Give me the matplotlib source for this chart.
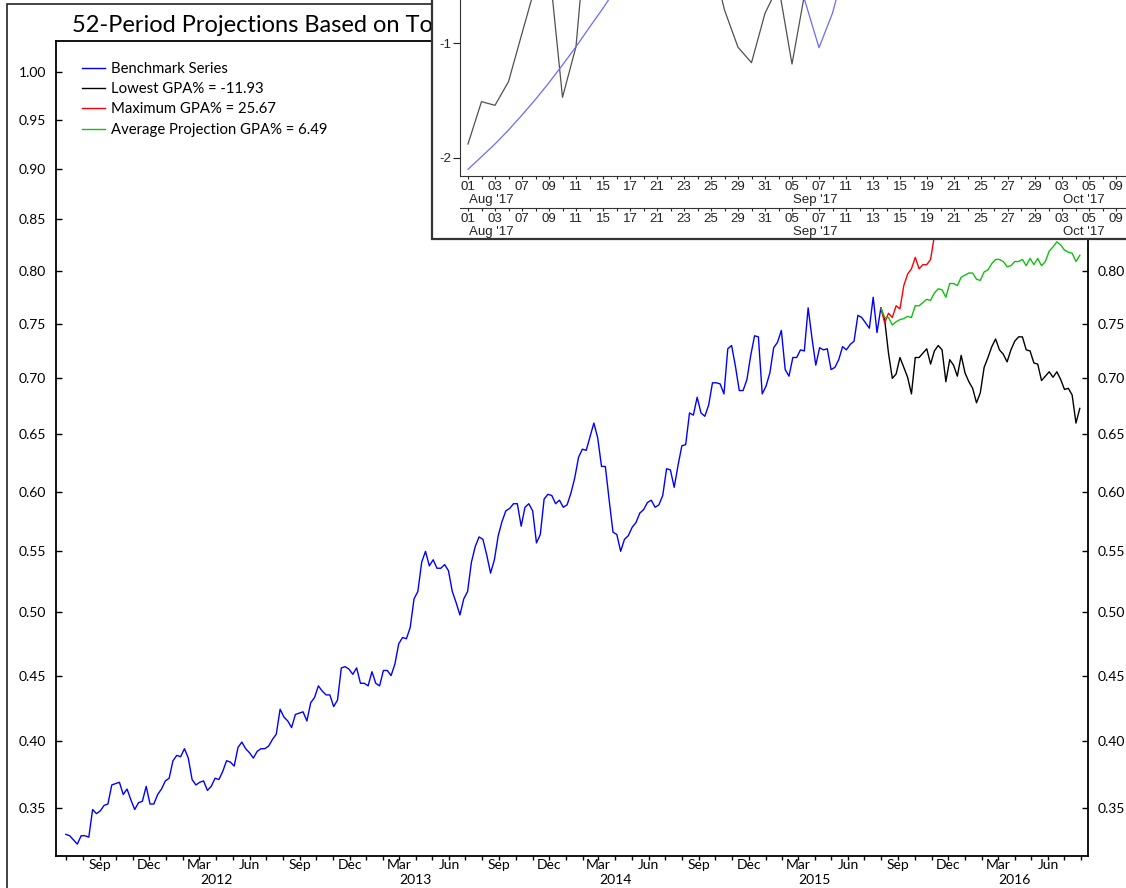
import numpy as np
import pandas as pd
import matplotlib
matplotlib.use("Agg")
import matplotlib.pyplot as plt
import matplotlib.dates as mdates
from matplotlib.patches import Rectangle
from matplotlib.ticker import FixedLocator, FixedFormatter, NullLocator

# ---------------- data ----------------
start_date = "2011-07-01"   # weekly benchmark series
benchmark = [
    0.331, 0.330, 0.327, 0.324, 0.330, 0.330, 0.329, 0.349, 0.346, 0.348,
    0.352, 0.353, 0.367, 0.368, 0.369, 0.360, 0.364, 0.356, 0.349, 0.354,
    0.355, 0.366, 0.353, 0.353, 0.360, 0.364, 0.370, 0.372, 0.385, 0.389,
    0.388, 0.394, 0.387, 0.371, 0.367, 0.369, 0.370, 0.363, 0.366, 0.372,
    0.371, 0.377, 0.385, 0.384, 0.381, 0.395, 0.399, 0.394, 0.391, 0.387,
    0.392, 0.394, 0.394, 0.396, 0.401, 0.405, 0.424, 0.418, 0.415, 0.410,
    0.420, 0.421, 0.422, 0.415, 0.429, 0.433, 0.442, 0.438, 0.435, 0.435,
    0.426, 0.431, 0.456, 0.457, 0.455, 0.451, 0.456, 0.444, 0.444, 0.442,
    0.453, 0.444, 0.442, 0.454, 0.454, 0.450, 0.459, 0.475, 0.480, 0.479,
    0.488, 0.511, 0.517, 0.541, 0.550, 0.538, 0.543, 0.536, 0.536, 0.539,
    0.534, 0.517, 0.508, 0.498, 0.511, 0.517, 0.541, 0.554, 0.562, 0.560,
    0.547, 0.532, 0.543, 0.563, 0.575, 0.584, 0.586, 0.590, 0.590, 0.571,
    0.587, 0.590, 0.584, 0.557, 0.564, 0.594, 0.598, 0.597, 0.590, 0.593,
    0.587, 0.589, 0.599, 0.612, 0.630, 0.637, 0.636, 0.648, 0.660, 0.647,
    0.622, 0.622, 0.593, 0.566, 0.564, 0.550, 0.560, 0.563, 0.570, 0.574,
    0.582, 0.585, 0.591, 0.593, 0.587, 0.589, 0.597, 0.620, 0.619, 0.604,
    0.623, 0.640, 0.641, 0.669, 0.667, 0.683, 0.669, 0.666, 0.676, 0.696,
    0.696, 0.695, 0.686, 0.727, 0.730, 0.711, 0.689, 0.689, 0.699, 0.721,
    0.739, 0.738, 0.686, 0.693, 0.705, 0.728, 0.733, 0.744, 0.708, 0.702,
    0.719, 0.719, 0.726, 0.725, 0.765, 0.737, 0.712, 0.728, 0.726, 0.727,
    0.708, 0.710, 0.717, 0.729, 0.726, 0.731, 0.734, 0.758, 0.756, 0.751,
    0.746, 0.775, 0.742, 0.765,
]
# 52-week projections, first value = last benchmark value
lowest = [
    0.765, 0.754, 0.723, 0.700, 0.704, 0.719, 0.710, 0.701, 0.686, 0.719,
    0.719, 0.723, 0.727, 0.713, 0.725, 0.730, 0.726, 0.697, 0.717, 0.712,
    0.702, 0.721, 0.705, 0.697, 0.691, 0.678, 0.687, 0.710, 0.719, 0.729,
    0.736, 0.726, 0.722, 0.715, 0.726, 0.734, 0.738, 0.738, 0.726, 0.725,
    0.714, 0.713, 0.698, 0.702, 0.706, 0.701, 0.706, 0.699, 0.690, 0.691,
    0.685, 0.660, 0.673,
]
average = [
    0.765, 0.756, 0.756, 0.749, 0.752, 0.754, 0.755, 0.757, 0.756, 0.767,
    0.767, 0.770, 0.773, 0.772, 0.779, 0.783, 0.782, 0.775, 0.788, 0.788,
    0.786, 0.794, 0.796, 0.798, 0.798, 0.792, 0.791, 0.799, 0.801, 0.807,
    0.811, 0.811, 0.809, 0.804, 0.805, 0.809, 0.809, 0.811, 0.805, 0.812,
    0.806, 0.812, 0.805, 0.809, 0.819, 0.823, 0.828, 0.825, 0.820, 0.818,
    0.817, 0.809, 0.815,
]
# visible part of the maximum projection (rest hidden under the inset)
maximum = [
    0.765, 0.751, 0.760, 0.756, 0.767, 0.764, 0.786, 0.797, 0.802, 0.813,
    0.802, 0.806, 0.806, 0.811, 0.834, 0.845, 0.850,
]

legend_labels = [
    "Benchmark Series",
    "Lowest GPA% = -11.93",
    "Maximum GPA% = 25.67",
    "Average Projection GPA% = 6.49",
]
title_text = "52-Period Projections Based on To"
year_labels = [2012, 2013, 2014, 2015, 2016]
y_ticks = [0.35, 0.40, 0.45, 0.50, 0.55, 0.60, 0.65, 0.70, 0.75, 0.80,
           0.85, 0.90, 0.95, 1.00]

# inset: business-day index series (Aug-Oct 2017)
nan = np.nan
inset_gray = [
    -1.878, -1.51, -1.542, -1.336, -0.916, -0.50, -0.31, -1.472, -1.032, 0.30,
    nan, nan, nan, nan, nan, nan, nan, nan, -0.23, -0.713,
    -1.037, -1.171, -0.742, -0.50, -1.183, -0.53,
]
inset_blue = [
    -2.098, -1.989, -1.878, -1.757, -1.626, -1.49, -1.345, -1.191, -1.032, -0.863,
    -0.698, -0.52, nan, nan, nan, nan, nan, nan, nan, nan,
    nan, nan, nan, nan, -0.30, -0.65, -1.041, -0.74, -0.30,
]
inset_day_labels = ["01", "03", "07", "09", "11", "15", "17", "21", "23", "25",
                    "29", "31", "05", "07", "11", "13", "15", "19", "21", "25",
                    "27", "29", "03", "05", "09"]
inset_month_labels = ["Aug '17", "Sep '17", "Oct '17"]
inset_month_pos = [0, 24, 44]
inset_y_ticks = [-1, -2]
inset_y_labels = ["-1", "-2"]

# ---------------- figure ----------------
W, H, DPI = 1126, 888, 100
plt.rcParams["font.family"] = ["Lato", "DejaVu Sans"]


def fx(x):
    return x / W


def fy(y):
    return 1 - y / H


fig = plt.figure(figsize=(W / DPI, H / DPI), dpi=DPI)

# main axes
ax = fig.add_axes([fx(56), fy(856), fx(1088) - fx(56), fy(41) - fy(856)], zorder=0)
ax.set_yscale("function", functions=(lambda y: np.log(np.asarray(y) + 1.1),
                                     lambda u: np.exp(np.asarray(u)) - 1.1))

bench_dates = pd.date_range(start_date, periods=len(benchmark), freq="7D")
proj_dates = pd.date_range(bench_dates[-1], periods=len(lowest), freq="7D")
max_dates = proj_dates[:len(maximum)]

lw = 1.0
l1, = ax.plot(bench_dates, benchmark, color="#0000ff", lw=lw)
l2, = ax.plot(proj_dates, lowest, color="black", lw=lw)
l3, = ax.plot(max_dates, maximum, color="#ff0000", lw=lw)
l4, = ax.plot(proj_dates, average, color="#10c010", lw=lw)

ax.set_ylim(0.3155, 1.033)
ax.set_xlim(pd.Timestamp("2011-06-13"), pd.Timestamp("2016-08-13"))
ax.yaxis.set_major_locator(FixedLocator(y_ticks))
ax.yaxis.set_major_formatter(FixedFormatter(["%.2f" % v for v in y_ticks]))
ax.yaxis.set_minor_locator(NullLocator())
ax.tick_params(axis="y", which="both", direction="in", left=True, right=True,
               labelleft=True, labelright=True, length=4, width=1, pad=7,
               labelsize=10)
# right-hand labels above 0.80 are covered by the inset panel
for t in ax.yaxis.get_major_ticks():
    if t.get_loc() > 0.82:
        t.label2.set_visible(False)

ax.xaxis.set_major_locator(mdates.MonthLocator(bymonth=[3, 6, 9, 12]))
ax.xaxis.set_major_formatter(mdates.DateFormatter("%b"))
ax.xaxis.set_minor_locator(mdates.MonthLocator())
ax.tick_params(axis="x", which="both", direction="out", length=3, width=1,
               pad=-1, labelsize=10)
for s in ax.spines.values():
    s.set_linewidth(1.3)

for yr in year_labels:
    ax.annotate(str(yr), xy=(pd.Timestamp(f"{yr}-04-01"), 0),
                xycoords=("data", "axes fraction"), xytext=(0, -13),
                textcoords="offset points", ha="center", va="top", fontsize=10)

ax.legend([l1, l2, l3, l4], legend_labels, loc="upper left",
          bbox_to_anchor=(fx(82), fy(62)), bbox_transform=fig.transFigure,
          frameon=False, fontsize=10.7, handlelength=1.55, handletextpad=0.4,
          labelspacing=0.42, borderpad=0, borderaxespad=0)

# title and outer border (below the inset)
fig.text(fx(72), fy(25), title_text, fontsize=17, ha="left", va="center",
         zorder=0.5)
fig.add_artist(Rectangle((fx(7), -0.1), 1.2, fy(4) + 0.1,
                         transform=fig.transFigure, facecolor="none",
                         edgecolor="#222222", lw=1.2, zorder=0.5))

# inset frame
fig.add_artist(Rectangle((fx(432), fy(239)), 1.0, 0.5,
                         transform=fig.transFigure, facecolor="white",
                         edgecolor="#333333", lw=1.6, zorder=1))

inset_font = ["Liberation Sans", "DejaVu Sans"]
ins_size = 9.5
ins_left, ins_right = 460, 1150
k0_px, k_step = 468, 13.5
xlo = (ins_left - k0_px) / k_step
xhi = (ins_right - k0_px) / k_step

ax2 = fig.add_axes([fx(ins_left), fy(176), fx(ins_right) - fx(ins_left),
                    fy(-20) - fy(176)], zorder=2)
ax2.patch.set_alpha(0)
ax2.plot(np.arange(len(inset_gray)), inset_gray, color="#505050", lw=0.9)
ax2.plot(np.arange(len(inset_blue)), inset_blue, color="#6a6aff", lw=0.9)
ax2.set_xlim(xlo, xhi)
ax2.set_ylim(-1 - (176 - 43) / 115, -1 + (43 + 20) / 115)
ax2.spines["top"].set_visible(False)
ax2.spines["right"].set_visible(False)

label_pos = list(range(0, 2 * len(inset_day_labels), 2))
minor_pos = list(range(1, 2 * len(inset_day_labels) + 1, 2))


def style_inset_xaxis(a):
    a.xaxis.set_major_locator(FixedLocator(label_pos))
    a.xaxis.set_major_formatter(FixedFormatter(inset_day_labels))
    a.xaxis.set_minor_locator(FixedLocator(minor_pos))
    a.tick_params(axis="x", which="both", direction="out", length=2.5,
                  width=0.8, pad=1, labelsize=ins_size, colors="#222222")
    for lab in a.get_xticklabels():
        lab.set_family(inset_font)
    for name, k in zip(inset_month_labels, inset_month_pos):
        a.annotate(name, xy=(k + 0.05, 0), xycoords=("data", "axes fraction"),
                   xytext=(0, -13.2), textcoords="offset points", ha="left",
                   va="top", fontsize=ins_size, family=inset_font,
                   color="#222222")


style_inset_xaxis(ax2)
ax2.yaxis.set_major_locator(FixedLocator(inset_y_ticks))
ax2.yaxis.set_major_formatter(FixedFormatter(inset_y_labels))
ax2.tick_params(axis="y", direction="out", length=5, width=0.8, pad=1,
                labelsize=ins_size, colors="#222222")
for lab in ax2.get_yticklabels():
    lab.set_family(inset_font)
ax2.spines["left"].set_color("#333333")
ax2.spines["bottom"].set_color("#333333")

# duplicated date axis below the inset
ax3 = fig.add_axes([fx(ins_left), fy(208), fx(ins_right) - fx(ins_left), 0.0001],
                   zorder=3)
ax3.patch.set_alpha(0)
ax3.set_xlim(xlo, xhi)
for name in ["top", "right", "left"]:
    ax3.spines[name].set_visible(False)
ax3.spines["bottom"].set_color("#333333")
ax3.set_yticks([])
style_inset_xaxis(ax3)

fig.savefig("out.png", dpi=DPI)
